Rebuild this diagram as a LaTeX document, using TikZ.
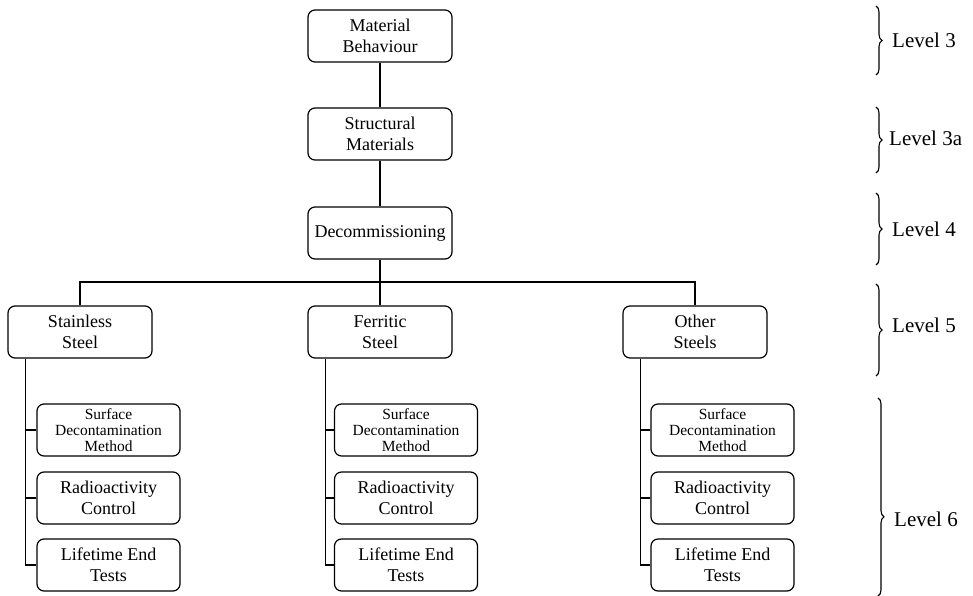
\documentclass[tikz,border=0pt]{standalone}
\usepackage{fontspec}
\setmainfont{Liberation Serif}
\usetikzlibrary{decorations.pathreplacing}
\begin{document}
\begin{tikzpicture}[x=1pt,y=-1pt,
  box/.style={draw, line width=1.2pt, rounded corners=7pt, fill=white,
    minimum width=144pt, minimum height=52pt, align=center,
    font=\fontsize{18}{21}\selectfont, inner sep=1pt},
  subbox/.style={box, minimum width=143pt},
  smallbox/.style={subbox, font=\fontsize{15.5}{16}\selectfont},
  link/.style={line width=1.2pt},
  levelbrace/.style={decorate, line width=1.1pt,
    decoration={brace, amplitude=6pt}},
  leveltext/.style={anchor=west, inner sep=0pt, font=\fontsize{21}{24}\selectfont}]
\useasboundingbox (0,0) rectangle (973,596);

% upper chain
\node[box] (mb)  at (380,36)  {Material\\Behaviour};
\node[box] (sm)  at (380,134) {Structural\\Materials};
\node[box] (dec) at (380,233) {Decommissioning};

% steel families
\node[box] (ss) at (80,332)  {Stainless\\Steel};
\node[box] (fs) at (380,332) {Ferritic\\Steel};
\node[box] (os) at (695,332) {Other\\Steels};

% sub-topics per family
\foreach \fam/\x in {ss/108.5, fs/406, os/722.5}{
  \node[smallbox] (\fam1) at (\x,430) {Surface\\Decontamination\\Method};
  \node[subbox]   (\fam2) at (\x,498) {Radioactivity\\Control};
  \node[subbox]   (\fam3) at (\x,565) {Lifetime End\\Tests};
}

% connectors
\draw[link] (mb) -- (sm);
\draw[link] (sm) -- (dec);
\draw[link] (dec) -- (fs);
\coordinate (bus) at (380,282);
\draw[link] (ss.north) |- (bus) -| (os.north);

\foreach \fam in {ss,fs,os}{
  \coordinate (\fam t) at ([xshift=18pt]\fam.south west);
  \draw[link] (\fam t) |- (\fam3.west);
  \draw[link] (\fam1.west) -- (\fam1.west -| \fam t);
  \draw[link] (\fam2.west) -- (\fam2.west -| \fam t);
}

% level braces
\draw[levelbrace] (876,6)   -- (876,75);
\node[leveltext] (l3)  at (892,40)  {Level 3};
\draw[levelbrace] (876,107) -- (876,173);
\node[leveltext] (l3a) at (889,138) {Level 3a};
\draw[levelbrace] (876,193) -- (876,265);
\node[leveltext] (l4)  at (892,229) {Level 4};
\draw[levelbrace] (876,284) -- (876,376);
\node[leveltext] (l5)  at (892,325) {Level 5};
\draw[levelbrace, decoration={aspect=0.6}] (878,398) -- (878,596);
\node[leveltext] (l6)  at (894,519) {Level 6};
\end{tikzpicture}
\end{document}
